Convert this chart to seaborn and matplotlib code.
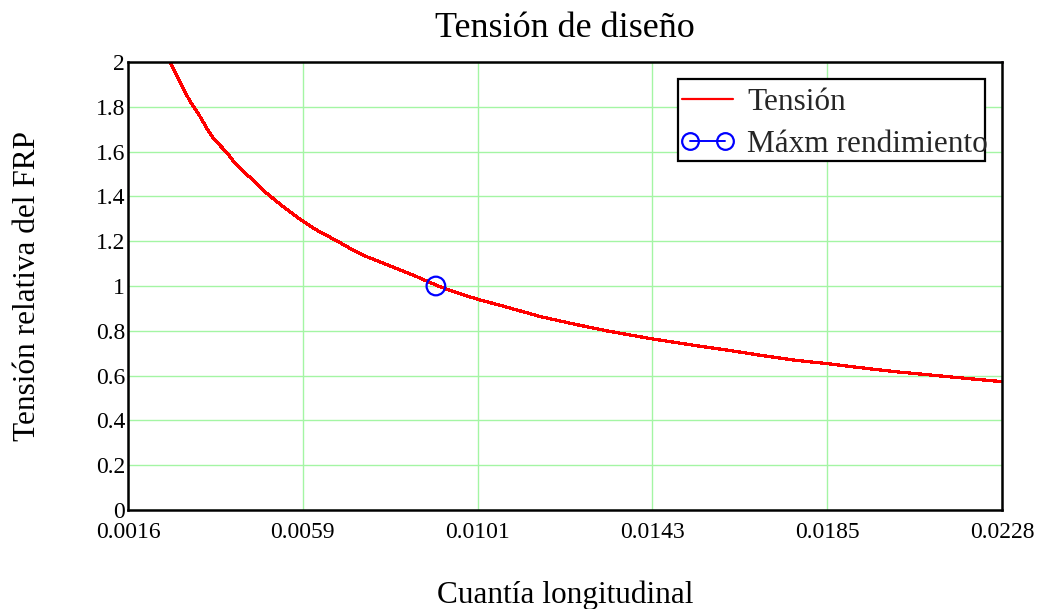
import numpy as np
import pandas as pd
import matplotlib
matplotlib.use("Agg")
import matplotlib.pyplot as plt
from matplotlib.lines import Line2D
from matplotlib.patches import Rectangle
from matplotlib.legend_handler import HandlerLine2D
import seaborn as sns

# Relative FRP stress vs. longitudinal reinforcement ratio
cuantia = [0.002654, 0.002775, 0.002896, 0.003017, 0.003138, 0.003258, 0.003379,
           0.003541, 0.003700, 0.003862, 0.004024, 0.004225, 0.004425, 0.004587,
           0.004990, 0.005391, 0.005850, 0.006198, 0.006720, 0.007002, 0.007406,
           0.007807, 0.008210, 0.008613, 0.009097, 0.009338, 0.010046, 0.010787,
           0.011592, 0.012396, 0.013203, 0.014304, 0.015215, 0.016181, 0.016986,
           0.017792, 0.018507, 0.019401, 0.020208, 0.021012, 0.021816, 0.022760]
tension = [2.000, 1.957, 1.913, 1.868, 1.824, 1.791, 1.757,
           1.705, 1.660, 1.628, 1.596, 1.549, 1.512, 1.485,
           1.414, 1.354, 1.291, 1.250, 1.198, 1.168, 1.131,
           1.102, 1.072, 1.042, 1.003, 0.986, 0.943, 0.906,
           0.864, 0.831, 0.800, 0.764, 0.738, 0.712, 0.689,
           0.668, 0.654, 0.634, 0.617, 0.603, 0.589, 0.573]

# Point of maximum efficiency
max_x = [0.00908]
max_y = [1.0]

x_tick_labels = ["0.0016", "0.0059", "0.0101", "0.0143", "0.0185", "0.0228"]
y_tick_values = [0, 0.2, 0.4, 0.6, 0.8, 1.0, 1.2, 1.4, 1.6, 1.8, 2.0]
y_tick_labels = ["0", "0.2", "0.4", "0.6", "0.8", "1", "1.2", "1.4", "1.6", "1.8", "2"]

W, H = 1044, 609

sns.set_theme(style="white")
plt.rcParams["font.family"] = ["Liberation Serif", "DejaVu Serif"]

fig = plt.figure(figsize=(W / 100, H / 100), dpi=100)
ax = fig.add_axes([128 / W, 1 - 510 / H, 874 / W, 448 / H])

df = pd.DataFrame({"cuantia": cuantia, "tension": tension})
sns.lineplot(data=df, x="cuantia", y="tension", ax=ax, color="red",
             linewidth=1.6, estimator=None, sort=False, legend=False)
for ln in ax.lines:
    ln.set_antialiased(False)

mk = pd.DataFrame({"x": max_x, "y": max_y})
sns.scatterplot(data=mk, x="x", y="y", ax=ax, marker="o", s=180,
                facecolor="none", edgecolor="blue", linewidth=1.6, legend=False,
                zorder=5)

xmin, xmax = 0.00164, 0.02276
ax.set_xlim(xmin, xmax)
ax.set_ylim(0, 2)
ax.set_xticks(np.linspace(xmin, xmax, len(x_tick_labels)))
ax.set_xticklabels(x_tick_labels)
ax.set_yticks(y_tick_values)
ax.set_yticklabels(y_tick_labels)
ax.tick_params(axis="both", length=0, labelsize=17, colors="black")
ax.tick_params(axis="x", pad=9)
ax.tick_params(axis="y", pad=2)

ax.grid(True, color="#a4f5a4", linewidth=1.0)
ax.set_axisbelow(True)
for sp in ax.spines.values():
    sp.set_visible(True)
    sp.set_color("black")
    sp.set_linewidth(1.8)

ax.set_xlabel("Cuantía longitudinal", fontsize=22.5, labelpad=27, color="black")
ax.set_ylabel("Tensión relativa del FRP", fontsize=22.5, labelpad=39, color="black")
ax.set_title("Tensión de diseño", fontsize=26, pad=18, color="black")

# Legend box (drawn separately so the long label may run over its edge)
box = Rectangle((678 / W, 1 - 161 / H), 307 / W, 82 / H, transform=fig.transFigure,
                facecolor="white", edgecolor="black", linewidth=1.6, zorder=4)
ax.add_patch(box)
box.set_clip_on(False)

h_line = Line2D([], [], color="red", linewidth=1.6)
h_mark = Line2D([], [], color="blue", linewidth=1.4, marker="o", markersize=12,
                markerfacecolor="none", markeredgecolor="blue", markeredgewidth=1.6)
leg = ax.legend([h_line, h_mark], ["Tensión", "Máxm rendimiento"],
                loc="upper left", bbox_to_anchor=(672.6 / W, 1 - 79 / H),
                bbox_transform=fig.transFigure, fontsize=22.5, numpoints=2,
                handlelength=1.63, handletextpad=0.45, borderpad=0.3,
                labelspacing=0.41, borderaxespad=0.0, frameon=False,
                handler_map={h_line: HandlerLine2D(marker_pad=0.0),
                             h_mark: HandlerLine2D(marker_pad=0.25)})
leg.set_zorder(6)

fig.savefig("out.png", dpi=100)
